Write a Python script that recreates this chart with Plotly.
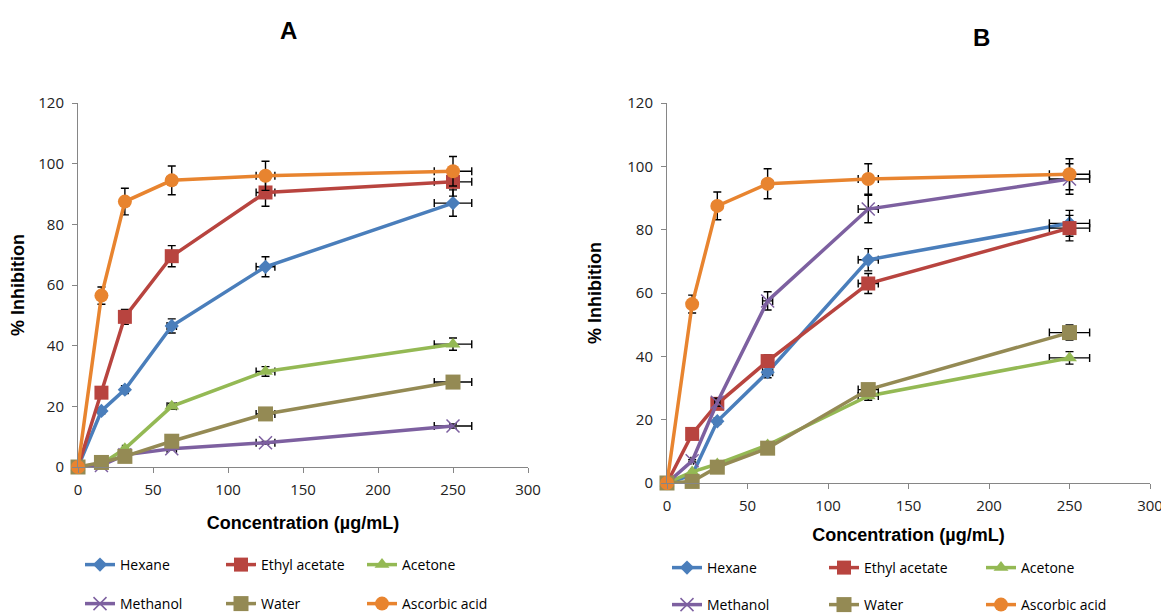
import plotly.graph_objects as go

conc = [0, 15.625, 31.25, 62.5, 125, 250]
series_names = ["Hexane", "Ethyl acetate", "Acetone", "Methanol", "Water", "Ascorbic acid"]

# Panel A values (% inhibition)
a_hexane = [0, 18.5, 25.5, 46.5, 66, 87]
a_ethyl = [0, 24.5, 49.5, 69.5, 90.5, 94]
a_acetone = [0, 1, 6, 20, 31.5, 40.5]
a_methanol = [0, 0.5, 4, 6, 8, 13.5]
a_water = [0, 1.5, 3.5, 8.5, 17.5, 28]
a_ascorbic = [0, 56.5, 87.5, 94.5, 96, 97.5]

# Panel B values (% inhibition)
b_hexane = [0, 2.5, 19.5, 35, 70.5, 82]
b_ethyl = [0, 15.5, 25, 38.5, 63, 80.5]
b_acetone = [0, 3.5, 6, 12, 27.5, 39.5]
b_methanol = [0, 7, 25.5, 57.5, 86.5, 96]
b_water = [0, 0.5, 5, 11, 29.5, 47.5]
b_ascorbic = [0, 56.5, 87.5, 94.5, 96, 97.5]

error_pct = 5  # percentage error bars (x and y)

colors = ["#4A7EBB", "#B8443F", "#94B954", "#7D60A0", "#948A54", "#E8842F"]
symbols = ["diamond", "square", "triangle-up", "x-thin", "square", "circle"]
sizes = [11, 14, 13, 13, 15, 14]

panel_a = [a_hexane, a_ethyl, a_acetone, a_methanol, a_water, a_ascorbic]
panel_b = [b_hexane, b_ethyl, b_acetone, b_methanol, b_water, b_ascorbic]

fig = go.Figure()

FONT = "Open Sans"

def add_panel(data, xa, ya, legs):
    for i, (name, vals) in enumerate(zip(series_names, data)):
        marker = dict(symbol=symbols[i], size=sizes[i], color=colors[i])
        if symbols[i] == "x-thin":
            marker["line"] = dict(color=colors[i], width=1.5)
        fig.add_trace(go.Scatter(
            x=conc, y=vals, name=name, mode="lines+markers",
            xaxis=xa, yaxis=ya,
            line=dict(color=colors[i], width=3.5),
            marker=marker,
            error_y=dict(type="percent", value=error_pct, color="black", thickness=1.4, width=4),
            error_x=dict(type="percent", value=error_pct, color="black", thickness=1.4, width=4),
            legend=legs[0] if i < 3 else legs[1],
            cliponaxis=False,
        ))

add_panel(panel_a, "x", "y", ["legend", "legend2"])
add_panel(panel_b, "x2", "y2", ["legend3", "legend4"])

# page has an 8px body margin: figure origin sits at (8, 8) on the page
OFF = 8
W, H = 1161, 605

def px_x(p):
    return (p - OFF) / W

def px_y(p):
    return (H - (p - OFF)) / H

axis_common = dict(
    showline=True, linecolor="#868686", linewidth=1,
    ticks="outside", tickcolor="#868686", ticklen=5,
    showgrid=False, zeroline=False, automargin=False,
    tickfont=dict(family=FONT, size=15, color="#222"),
)

TFONT = dict(family="Liberation Sans", size=18, color="black")

fig.update_layout(
    width=W, height=H,
    margin=dict(l=0, r=0, t=0, b=0, autoexpand=False),
    paper_bgcolor="white", plot_bgcolor="white",
    xaxis=dict(domain=[px_x(78), px_x(528)], range=[0, 300], dtick=50, anchor="y",
               ticklabelstandoff=4,
               title=dict(text="<b>Concentration (µg/mL)</b>", font=TFONT, standoff=18),
               **axis_common),
    yaxis=dict(domain=[px_y(467), px_y(103)], range=[0, 120], dtick=20, anchor="x",
               ticklabelstandoff=5,
               title=dict(text="<b>% Inhibition</b>", font=TFONT, standoff=9),
               **axis_common),
    xaxis2=dict(domain=[px_x(667), px_x(1150)], range=[0, 300], dtick=50, anchor="y2",
                ticklabelstandoff=4,
                title=dict(text="<b>Concentration (µg/mL)</b>", font=TFONT, standoff=14),
                **axis_common),
    yaxis2=dict(domain=[px_y(483), px_y(103)], range=[0, 120], dtick=20, anchor="x2",
                ticklabelstandoff=5,
                title=dict(text="<b>% Inhibition</b>", font=TFONT, standoff=20),
                **axis_common),
    showlegend=True,
)

leg_common = dict(orientation="h", xanchor="left", yanchor="middle",
                  font=dict(family=FONT, size=14, color="black"),
                  bgcolor="rgba(0,0,0,0)", entrywidthmode="pixels", tracegroupgap=0,
                  itemclick=False, itemdoubleclick=False)

fig.update_layout(
    legend=dict(x=px_x(80), y=px_y(565), entrywidth=96, **leg_common),
    legend2=dict(x=px_x(80), y=px_y(604), entrywidth=96, **leg_common),
    legend3=dict(x=px_x(667), y=px_y(568), entrywidth=112, **leg_common),
    legend4=dict(x=px_x(667), y=px_y(605), entrywidth=112, **leg_common),
)

fig.add_annotation(text="<b>A</b>", x=px_x(288), y=px_y(30), xref="paper", yref="paper",
                   xanchor="center", yanchor="middle",
                   showarrow=False, font=dict(family="Liberation Sans", size=24, color="black"))
fig.add_annotation(text="<b>B</b>", x=px_x(982), y=px_y(38), xref="paper", yref="paper",
                   xanchor="center", yanchor="middle",
                   showarrow=False, font=dict(family="Liberation Sans", size=24, color="black"))

fig.write_html("out.html")
